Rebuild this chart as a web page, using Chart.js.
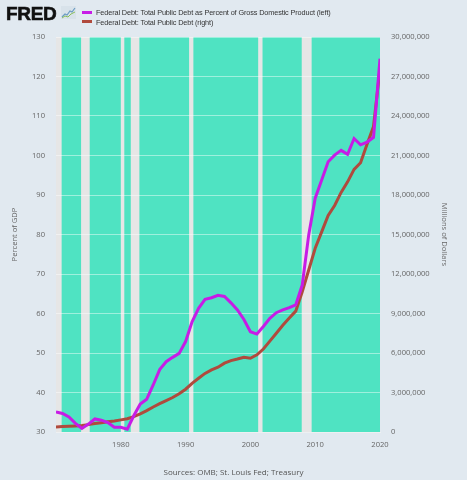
<!DOCTYPE html>
<html>
<head>
<meta charset="utf-8">
<script src="https://cdn.jsdelivr.net/npm/chart.js@4.4.1/dist/chart.umd.min.js"></script>
<style>
  html, body { margin: 0; padding: 0; background: #e1e9f0; }
  #wrap { position: relative; width: 467px; height: 480px; font-family: "Open Sans", sans-serif; }
  canvas { position: absolute; left: 0; top: 0; }
  .logo { position: absolute; left: 6px; top: 3px; font: 900 19px "Liberation Sans", Arial, sans-serif; color: #111; letter-spacing: -0.3px; -webkit-text-stroke: 0.6px #111; }
  .icon { position: absolute; left: 61px; top: 6px; }
  .legend { position: absolute; left: 82px; top: 8px; font: 7.3px "Liberation Sans", Arial, sans-serif; color: #333; line-height: 9.5px; letter-spacing: -0.12px; }
  .legend div { white-space: nowrap; }
  .sw { display: inline-block; width: 10px; height: 3px; margin-right: 4px; vertical-align: middle; position: relative; top: -1px; }
  .source { position: absolute; left: 0; width: 467px; top: 466px; text-align: center; font-size: 8px; color: #555; }
</style>
</head>
<body>
<div id="wrap">
  <canvas id="chart" width="467" height="480"></canvas>
  <div class="logo">FRED</div>
  <svg class="icon" width="15" height="13" viewBox="0 0 15 13">
    <rect x="0" y="0" width="15" height="13" fill="#d8e2ea"/>
    <polyline points="1,11 4,8 6,9 9,5 11,6 14,2" fill="none" stroke="#6a9bc3" stroke-width="1.2"/>
    <polyline points="1,12 4,10 7,11 10,8 14,6" fill="none" stroke="#8bbf5a" stroke-width="1"/>
  </svg>
  <div class="legend">
    <div><span class="sw" style="background:#c71ce6"></span>Federal Debt: Total Public Debt as Percent of Gross Domestic Product (left)</div>
    <div><span class="sw" style="background:#b04a3d"></span>Federal Debt: Total Public Debt (right)</div>
  </div>
  <div class="source">Sources: OMB; St. Louis Fed; Treasury</div>
</div>
<script>
const years = [];
for (let y = 1970; y <= 2020; y++) years.push(y);

// Federal debt as percent of GDP (left axis)
const debtPctGdp = [
  35.1, 34.7, 33.8, 32.2, 30.9, 32.0, 33.3, 33.0, 32.4, 31.2,
  31.2, 30.7, 34.1, 37.1, 38.3, 41.9, 45.8, 47.8, 48.9, 49.9,
  52.9, 57.9, 61.3, 63.6, 64.0, 64.6, 64.3, 62.7, 60.9, 58.5,
  55.4, 54.8, 56.7, 58.8, 60.2, 60.9, 61.5, 62.2, 67.2, 79.9,
  89.2, 93.8, 98.4, 100.1, 101.3, 100.3, 104.3, 102.7, 103.4, 104.6,
  124.5
];

// Total public debt, millions of dollars (right axis)
const debtMillions = [
  380000, 410000, 440000, 465000, 490000, 560000, 640000, 710000, 780000, 840000,
  920000, 1010000, 1170000, 1380000, 1620000, 1900000, 2150000, 2380000, 2620000, 2900000,
  3250000, 3700000, 4080000, 4450000, 4720000, 4920000, 5230000, 5420000, 5540000, 5680000,
  5600000, 5860000, 6300000, 6900000, 7500000, 8100000, 8650000, 9180000, 10650000, 12300000,
  13950000, 15200000, 16450000, 17200000, 18200000, 19000000, 19950000, 20450000, 21850000, 23200000,
  27600000
];

// NBER recessions (start, end) as fractional years
const recessions = [
  [1969.92, 1970.87], [1973.87, 1975.2], [1980.0, 1980.54], [1981.54, 1982.87],
  [1990.54, 1991.2], [2001.2, 2001.87], [2007.92, 2009.45]
];

const leftTicks = [30, 40, 50, 60, 70, 80, 90, 100, 110, 120, 130];
const xTicks = [1980, 1990, 2000, 2010, 2020];

const bandsPlugin = {
  id: 'bands',
  beforeDraw(chart) {
    const { ctx, chartArea: a, scales: { x } } = chart;
    ctx.save();
    ctx.fillStyle = '#4fe3c2';
    ctx.fillRect(a.left, a.top, a.right - a.left, a.bottom - a.top);
    ctx.fillStyle = '#e6e6e6';
    recessions.forEach(([s, e]) => {
      const x0 = Math.max(a.left, x.getPixelForValue(s));
      const x1 = Math.min(a.right, x.getPixelForValue(e));
      if (x1 > x0) ctx.fillRect(x0, a.top, x1 - x0, a.bottom - a.top);
    });
    ctx.restore();
  }
};

const tickFont = { family: 'Open Sans', size: 7.6 };
const tickColor = '#666';

new Chart(document.getElementById('chart'), {
  type: 'line',
  data: {
    datasets: [
      {
        label: 'Federal Debt: Total Public Debt as Percent of Gross Domestic Product (left)',
        data: years.map((y, i) => ({ x: y, y: debtPctGdp[i] })),
        borderColor: '#c71ce6',
        borderWidth: 3,
        pointRadius: 0,
        yAxisID: 'y',
        tension: 0
      },
      {
        label: 'Federal Debt: Total Public Debt (right)',
        data: years.map((y, i) => ({ x: y, y: debtMillions[i] })),
        borderColor: '#b04a3d',
        borderWidth: 3,
        pointRadius: 0,
        yAxisID: 'y1',
        tension: 0
      }
    ]
  },
  options: {
    responsive: false,
    animation: false,
    devicePixelRatio: 1,
    layout: { padding: { top: 37, left: 0, right: 0, bottom: 0 } },
    plugins: { legend: { display: false }, tooltip: { enabled: false } },
    scales: {
      x: {
        type: 'linear',
        min: 1970,
        max: 2020,
        afterBuildTicks: (s) => { s.ticks = xTicks.map(v => ({ value: v })); },
        afterFit: (s) => { s.height = 48; },
        grid: { display: false, drawTicks: false, tickLength: 0 },
        border: { color: '#eef0f2' },
        ticks: { font: tickFont, color: tickColor, padding: 8, maxRotation: 0, callback: (v) => String(v) }
      },
      y: {
        position: 'left',
        min: 30,
        max: 130,
        afterBuildTicks: (s) => { s.ticks = leftTicks.map(v => ({ value: v })); },
        afterFit: (s) => { s.width = 56; },
        grid: { color: 'rgba(255,255,255,0.45)', drawTicks: false },
        border: { display: false },
        ticks: { font: tickFont, color: tickColor, padding: 11 },
        title: { display: true, text: 'Percent of GDP', font: tickFont, color: tickColor, padding: { top: 10, bottom: 0 } }
      },
      y1: {
        position: 'right',
        min: 0,
        max: 30000000,
        afterBuildTicks: (s) => {
          const t = [];
          for (let v = 0; v <= 30000000; v += 3000000) t.push({ value: v });
          s.ticks = t;
        },
        afterFit: (s) => { s.width = 87; },
        grid: { drawOnChartArea: false, drawTicks: false },
        border: { display: false },
        ticks: { font: tickFont, color: tickColor, padding: 11, callback: (v) => v.toLocaleString('en-US') },
        title: { display: true, text: 'Millions of Dollars', font: tickFont, color: tickColor, padding: { top: 18, bottom: 0 } }
      }
    }
  },
  plugins: [bandsPlugin]
});
</script>
</body>
</html>
